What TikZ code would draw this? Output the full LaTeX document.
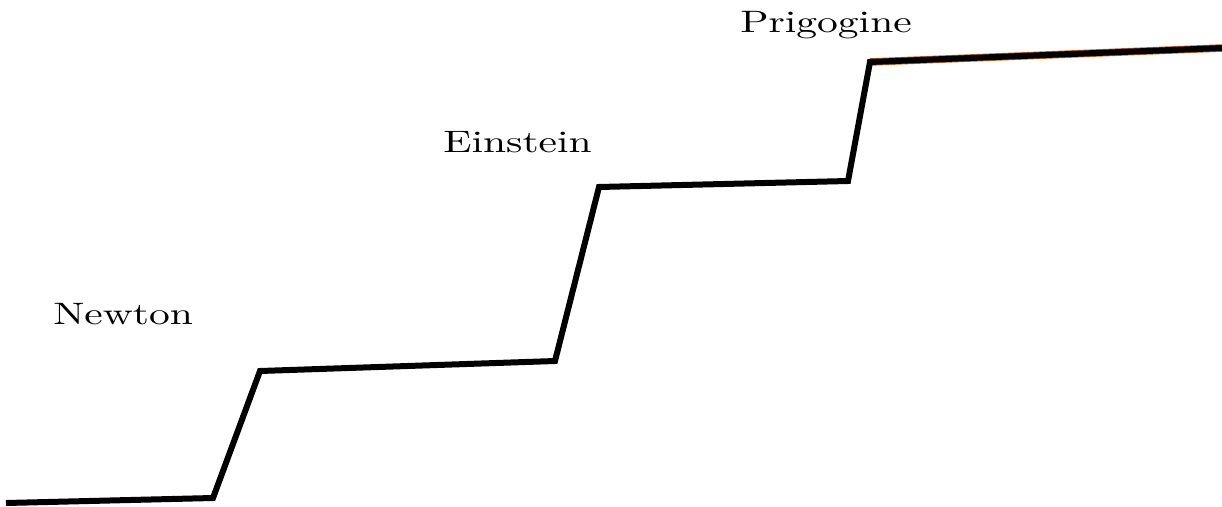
\documentclass[tikz,border=0pt]{standalone}
\usepackage{fontspec}
\newfontfamily\stepfont{lmroman10-regular.otf}
\usetikzlibrary{positioning}
\definecolor{StairBlack}{HTML}{000000}
\definecolor{StairRim}{HTML}{C8641E}

\begin{document}
\begin{tikzpicture}[x=1pt,y=-1pt,line join=miter,
    stair/.style={StairBlack,line width=6pt},
    physicist/.style={inner sep=0pt,anchor=base west,xscale=1.34,transform shape,
      font=\stepfont\fontsize{31}{36}\selectfont}]
  \useasboundingbox (0,0) rectangle (1222,506);
  % corners of the steps
  \coordinate (S0) at (6,503);
  \coordinate (S1) at (213,498);
  \coordinate (S2) at (260,371);
  \coordinate (S3) at (555,361);
  \coordinate (S4) at (599,187);
  \coordinate (S5) at (848,181);
  \coordinate (S6) at (870,62);
  \coordinate (S7) at (1222,48);
  \draw[StairRim,line width=7.5pt] (S6)--(S7);
  \draw[stair] (S0)--(S1)--(S2)--(S3)--(S4)--(S5)--(S6)--(S7);
  \node[physicist] (newton) at (53,324) {Newton};
  \node[physicist] (einstein) at (443,152) {Einstein};
  \node[physicist] (prigogine) at (740,32) {Prigogine};
\end{tikzpicture}
\end{document}
